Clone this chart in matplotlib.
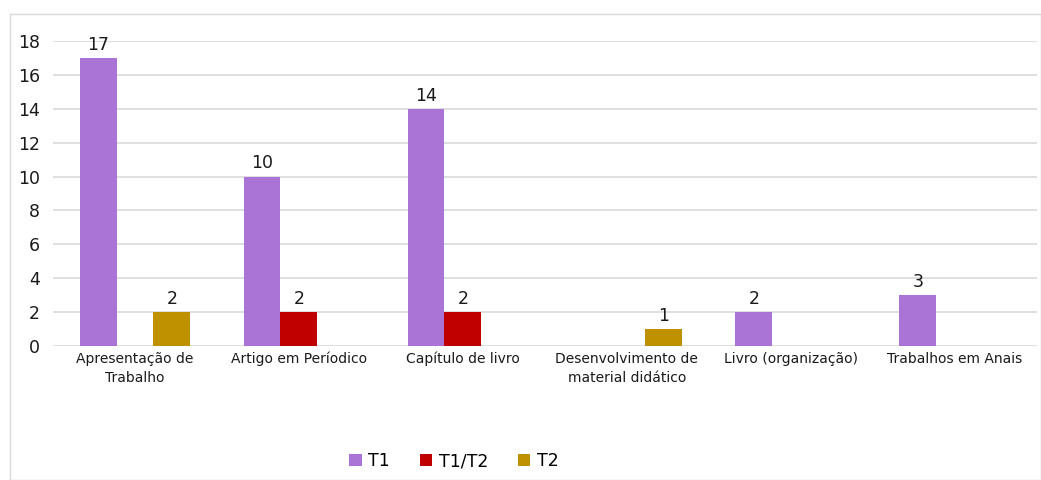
import matplotlib
matplotlib.use("Agg")
import matplotlib.pyplot as plt
import numpy as np
from matplotlib.patches import Rectangle

categories = ["Apresentação de\nTrabalho", "Artigo em Períodico", "Capítulo de livro",
              "Desenvolvimento de\nmaterial didático", "Livro (organização)", "Trabalhos em Anais"]
series_names = ["T1", "T1/T2", "T2"]
t1 = [17, 10, 14, None, 2, 3]
t1t2 = [None, 2, 2, None, None, None]
t2 = [2, None, None, 1, None, None]
colors = ["#A974D6", "#C00000", "#BF9000"]
yticks = [0, 2, 4, 6, 8, 10, 12, 14, 16, 18]

plt.rcParams['font.family'] = ['DejaVu Sans']
fig = plt.figure(figsize=(10.41, 4.8), dpi=100)
ax = fig.add_axes([0.0509, 0.279, 0.945, 0.6356])

fig.patches.append(Rectangle((10/1041, 0), 1 - 10/1041 - 0.5/1041, 1 - 14/480,
                             transform=fig.transFigure, fill=False,
                             edgecolor="#D9D9D9", linewidth=1.0))

x = np.arange(len(categories))
w = 0.225
offsets = [-w, 0, w]
for vals, name, c, off in zip([t1, t1t2, t2], series_names, colors, offsets):
    xs = [xi + off for xi, v in zip(x, vals) if v is not None]
    vs = [v for v in vals if v is not None]
    bars = ax.bar(xs, vs, width=w, color=c, label=name, zorder=3)
    for b, v in zip(bars, vs):
        ax.text(b.get_x() + b.get_width() / 2, v + 0.25, str(v), ha="center",
                va="bottom", fontsize=12.5, color="#1a1a1a")

ax.set_xlim(-0.5, len(categories) - 0.5)
ax.set_ylim(0, 18)
ax.set_yticks(yticks)
ax.set_xticks(x)
ax.set_xticklabels(categories, fontsize=10, color="#1a1a1a", linespacing=1.45)
ax.tick_params(axis="y", labelsize=12.5, colors="#1a1a1a", length=0, pad=9.5)
ax.tick_params(axis="x", length=0, pad=4)
ax.grid(axis="y", color="#D9D9D9", linewidth=1.2, zorder=0)
for s in ax.spines.values():
    s.set_visible(False)

leg = fig.legend(loc="center", bbox_to_anchor=(454/1041, 1 - 461/480), ncol=3,
                 frameon=False, fontsize=12.5, handlelength=0.7, handleheight=0.7,
                 handletextpad=0.4, columnspacing=1.7)

fig.savefig("out.png", dpi=100)
